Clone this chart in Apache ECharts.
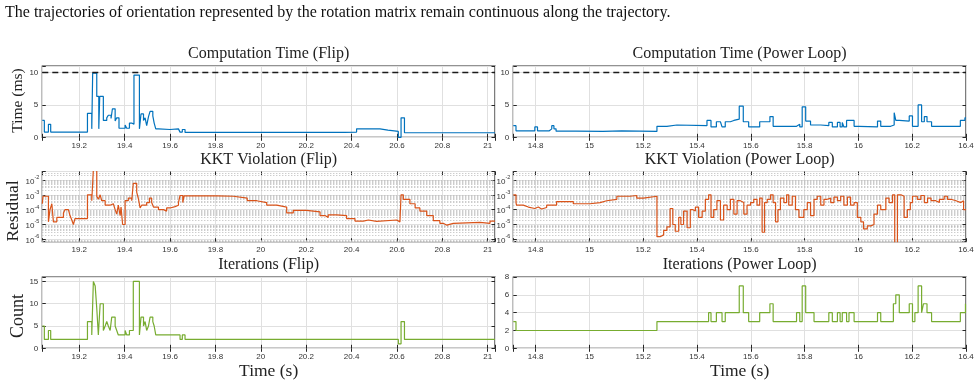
<!DOCTYPE html>
<html>
<head>
<meta charset="utf-8">
<script src="https://cdn.jsdelivr.net/npm/echarts@6/dist/echarts.min.js"></script>
<style>
  html, body { margin: 0; padding: 0; background: #fff; }
  #chart { width: 979px; height: 386px; }
</style>
</head>
<body>
<div id="chart"></div>
<script>
// ---- data (step change points: time in s, value held until next point) ----
const flipTimeT = [19.037, 19.046, 19.064, 19.074, 19.236, 19.255, 19.259, 19.277, 19.286, 19.290, 19.306, 19.321, 19.328, 19.340, 19.346, 19.358, 19.365, 19.375, 19.402, 19.409, 19.421, 19.431, 19.441, 19.465, 19.472, 19.483, 19.490, 19.497, 19.505, 19.512, 19.524, 19.530, 19.537, 19.549, 19.600, 19.637, 19.644, 19.654, 19.666, 19.923, 19.930, 20.077, 20.084, 20.349, 20.356, 20.370, 20.378, 20.422, 20.525, 20.560, 20.606, 20.618, 20.633, 20.819, 20.826, 21.032];
const flipTimeV = [2.6, 0.8, 2.0, 0.8, 3.7, 1.3, 9.9, 6.3, 1.3, 6.3, 2.6, 3.0, 3.4, 2.9, 4.4, 2.5, 3.0, 1.4, 1.9, 1.4, 2.2, 2.0, 9.6, 1.3, 3.6, 2.6, 3.0, 1.8, 3.2, 4.0, 3.3, 2.2, 1.3, 1.2, 1.3, 1.2, 0.8, 1.2, 0.75, 0.95, 0.75, 0.95, 0.75, 0.95, 0.75, 0.9, 0.8, 1.3, 1.1, 0.9, 0, 3.0, 0.7, 0.9, 0.7, 0.7];

const loopTimeT = [14.717, 14.727, 14.797, 14.807, 14.851, 14.860, 14.868, 14.876, 14.950, 15.050, 15.120, 15.251, 15.288, 15.325, 15.437, 15.452, 15.472, 15.487, 15.493, 15.505, 15.524, 15.537, 15.557, 15.572, 15.592, 15.633, 15.671, 15.683, 15.770, 15.782, 15.791, 15.804, 15.822, 15.860, 15.890, 15.903, 15.922, 15.932, 15.940, 15.946, 15.956, 15.965, 15.984, 16.002, 16.071, 16.083, 16.120, 16.133, 16.139, 16.152, 16.189, 16.201, 16.222, 16.235, 16.245, 16.255, 16.272, 16.379, 16.396, 16.4];
const loopTimeV = [1.8, 1.0, 1.6, 1.0, 1.3, 1.8, 1.3, 0.95, 0.9, 1.0, 0.9, 1.7, 1.9, 1.8, 2.6, 1.6, 2.4, 2.2, 1.6, 2.4, 2.6, 2.8, 4.8, 2.4, 1.6, 2.4, 3.2, 1.7, 2.0, 1.6, 4.7, 2.5, 1.9, 1.8, 2.3, 1.6, 2.3, 1.6, 2.3, 1.6, 2.6, 2.6, 1.7, 1.6, 2.5, 1.7, 1.9, 3.8, 2.6, 2.5, 3.3, 1.7, 5.0, 2.4, 3.2, 2.4, 1.7, 2.6, 3.0, 3.0];

const flipKktT = [19.037, 19.040, 19.064, 19.071, 19.079, 19.086, 19.101, 19.130, 19.137, 19.152, 19.159, 19.167, 19.174, 19.181, 19.236, 19.255, 19.262, 19.277, 19.284, 19.292, 19.299, 19.314, 19.336, 19.350, 19.358, 19.365, 19.372, 19.380, 19.384, 19.391, 19.402, 19.416, 19.431, 19.438, 19.453, 19.461, 19.468, 19.475, 19.497, 19.509, 19.519, 19.527, 19.549, 19.571, 19.585, 19.600, 19.622, 19.637, 19.644, 19.656, 19.662, 19.806, 19.879, 19.940, 19.982, 20.026, 20.070, 20.114, 20.143, 20.202, 20.261, 20.283, 20.297, 20.334, 20.378, 20.415, 20.452, 20.474, 20.481, 20.510, 20.599, 20.613, 20.618, 20.628, 20.657, 20.680, 20.701, 20.731, 20.760, 20.789, 20.804, 20.820, 20.848, 20.907, 20.966, 21.010, 21.032];
const flipKktV = [2.5e-4, 8e-4, 1.5e-5, 1e-4, 2.5e-4, 1.5e-5, 3e-5, 6e-5, 1e-4, 8e-5, 4e-5, 2e-5, 1e-5, 2.5e-5, 1e-3, 4e-4, 0.05, 8e-4, 5e-4, 1e-3, 4e-4, 2e-4, 2.5e-4, 3e-4, 1e-4, 5e-5, 2e-4, 4e-5, 1.5e-4, 1e-5, 4e-4, 6e-4, 4e-4, 6e-3, 1.5e-3, 5e-4, 1.3e-4, 2e-4, 3e-4, 6e-4, 3e-4, 1.5e-4, 1e-4, 8e-5, 1.3e-4, 1.6e-4, 2e-4, 3e-4, 9e-4, 3e-4, 8.5e-4, 8e-4, 6e-4, 4e-4, 3e-4, 2e-4, 1.5e-4, 6e-5, 9e-5, 7e-5, 4e-5, 3e-5, 4.5e-5, 4e-5, 2.5e-5, 1.7e-5, 2e-5, 2.5e-5, 1.6e-5, 2e-5, 1.5e-5, 1.2e-5, 1e-3, 5e-4, 2.5e-4, 1.3e-4, 8e-5, 4e-5, 1.8e-5, 1.2e-5, 9e-6, 1.2e-5, 1.3e-5, 1.4e-5, 1.2e-5, 1.7e-5, 1.8e-5];

const loopKktT = [14.717, 14.727, 14.729, 14.754, 14.773, 14.779, 14.797, 14.810, 14.822, 14.841, 14.878, 14.940, 15.002, 15.040, 15.064, 15.102, 15.151, 15.176, 15.201, 15.251, 15.263, 15.276, 15.288, 15.300, 15.310, 15.319, 15.332, 15.340, 15.350, 15.363, 15.375, 15.385, 15.394, 15.406, 15.419, 15.431, 15.443, 15.452, 15.462, 15.474, 15.487, 15.499, 15.512, 15.524, 15.537, 15.549, 15.561, 15.574, 15.586, 15.599, 15.611, 15.623, 15.633, 15.642, 15.651, 15.661, 15.673, 15.683, 15.692, 15.701, 15.710, 15.723, 15.733, 15.741, 15.754, 15.766, 15.779, 15.797, 15.810, 15.822, 15.835, 15.847, 15.860, 15.872, 15.884, 15.897, 15.909, 15.922, 15.934, 15.946, 15.959, 15.971, 15.984, 15.996, 16.009, 16.019, 16.033, 16.046, 16.058, 16.071, 16.083, 16.102, 16.114, 16.127, 16.135, 16.145, 16.158, 16.170, 16.182, 16.193, 16.201, 16.219, 16.232, 16.245, 16.257, 16.270, 16.288, 16.301, 16.319, 16.331, 16.344, 16.363, 16.381, 16.391, 16.4];
const loopKktV = [1e-3, 3e-4, 2e-4, 1.5e-4, 2e-4, 1.2e-4, 1.5e-4, 1.1e-4, 1.4e-4, 2e-4, 3.5e-4, 2.5e-4, 3e-4, 4e-4, 5e-4, 8e-4, 9e-4, 6e-4, 8e-4, 1.5e-6, 2e-6, 4e-6, 7e-6, 1.2e-4, 1e-5, 3.5e-6, 3e-5, 1e-5, 8e-5, 6e-6, 1e-4, 8e-5, 1.5e-4, 3e-5, 8e-5, 5e-4, 1e-3, 3e-5, 1e-4, 4e-4, 2e-5, 2e-4, 1e-4, 5e-4, 5e-5, 4e-4, 3e-4, 5e-5, 2e-4, 3e-4, 5e-4, 2e-4, 6e-4, 3e-6, 3e-4, 5e-4, 1e-3, 3e-4, 1.5e-5, 1e-4, 6e-4, 3e-4, 1e-3, 2e-4, 8e-4, 1e-4, 3e-5, 1e-4, 3e-4, 4e-5, 5e-4, 8e-4, 2e-4, 5e-4, 6e-4, 3e-4, 7e-4, 4e-4, 8e-4, 2e-4, 7e-4, 2e-4, 3e-4, 3e-5, 1.5e-5, 5e-6, 8e-6, 1e-5, 5e-5, 2e-4, 1e-4, 6e-4, 3e-4, 1e-3, 5e-7, 1e-3, 8e-4, 3e-5, 1e-4, 3e-4, 8e-4, 5e-4, 9e-4, 3e-4, 6e-4, 4e-4, 3e-4, 5e-4, 8e-4, 5e-4, 4e-4, 3e-4, 4e-4, 1e-4, 1e-4];

const flipIterT = [19.037, 19.046, 19.064, 19.074, 19.236, 19.255, 19.262, 19.270, 19.277, 19.284, 19.292, 19.306, 19.314, 19.321, 19.328, 19.336, 19.343, 19.358, 19.365, 19.372, 19.402, 19.409, 19.421, 19.438, 19.465, 19.472, 19.483, 19.490, 19.497, 19.505, 19.512, 19.524, 19.530, 19.537, 19.644, 19.654, 19.666, 20.606, 20.618, 20.633, 21.032];
const flipIterV = [5, 2, 4, 2, 6, 3, 15, 14, 9, 3, 10, 4, 5, 6, 5, 4, 7, 5, 4, 3, 4, 3, 4, 15, 3, 7, 5, 6, 4, 5, 7, 6, 5, 3, 2, 3, 2, 1, 6, 2, 2];

const loopIterT = [14.717, 14.727, 15.251, 15.443, 15.452, 15.472, 15.493, 15.505, 15.557, 15.572, 15.592, 15.633, 15.671, 15.683, 15.770, 15.782, 15.791, 15.804, 15.835, 15.890, 15.903, 15.922, 15.932, 15.940, 15.956, 15.965, 15.984, 16.071, 16.083, 16.130, 16.139, 16.152, 16.189, 16.201, 16.210, 16.222, 16.235, 16.242, 16.255, 16.272, 16.379, 16.398, 16.4];
const loopIterV = [3, 2, 3, 4, 3, 4, 3, 4, 7, 4, 3, 4, 5, 3, 4, 3, 7, 4, 3, 4, 3, 4, 3, 4, 3, 4, 3, 4, 3, 5, 6, 4, 5, 3, 4, 7, 4, 5, 4, 3, 4, 5, 5];

const panelTitles = ['Computation Time (Flip)', 'Computation Time (Power Loop)', 'KKT Violation (Flip)', 'KKT Violation (Power Loop)', 'Iterations (Flip)', 'Iterations (Power Loop)'];
const timeLimit = 10;

// ---- layout ----
const COLS = [{ left: 42.3, width: 452.7 }, { left: 513.3, width: 452.7 }];
const ROWS = [{ top: 66, height: 71.3 }, { top: 171.5, height: 70.2 }, { top: 277, height: 71.3 }];
const XRANGE = [[19.037, 21.032, 10], [14.717, 16.4, 8]];
const COLORS = ['#0072BD', '#D95319', '#77AC30'];

const AX = '#262626';
const GRID_C = '#e0e0e0';
const SANS = 'Liberation Sans, Arial, sans-serif';
const SERIF = '"Liberation Serif", "Times New Roman", serif';

const KKT_MIN = 6.9e-7;
const KKT_MAX = 0.0374;

function pairs(t, v) {
  return t.map((x, i) => [x, v[i]]);
}

function fmtX(v) {
  if (Math.abs(v * 5 - Math.round(v * 5)) > 1e-6) return '';
  return String(+v.toFixed(1));
}

function fmtLog(v) {
  const e = Math.log10(v);
  if (Math.abs(e - Math.round(e)) > 1e-6) return '';
  return '{b|10}{s|' + Math.round(e) + '}';
}

function xAxesFor(gi, col) {
  const [min, max, splitNumber] = XRANGE[col];
  const base = {
    type: 'value', gridIndex: gi, min, max, splitNumber,
    axisLine: { show: false },
    axisTick: { inside: true, length: 3.5, lineStyle: { color: AX, width: 1 } },
  };
  return [
    Object.assign({}, base, {
      position: 'bottom',
      axisLabel: { margin: 4, fontSize: 8, color: '#333', fontFamily: SANS, formatter: fmtX },
      splitLine: { show: true, lineStyle: { color: GRID_C, width: 1 } },
    }),
    Object.assign({}, base, {
      position: 'top',
      axisLabel: { show: false },
      splitLine: { show: false },
    }),
  ];
}

function yAxesFor(gi, row, col) {
  let base;
  let label;
  if (row === 1) {
    base = { type: 'log', logBase: 10, min: KKT_MIN, max: KKT_MAX, splitNumber: 5 };
    label = {
      margin: 3, color: '#333', fontFamily: SANS, formatter: fmtLog,
      rich: {
        b: { fontSize: 8, fontFamily: SANS, color: '#333', verticalAlign: 'bottom' },
        s: { fontSize: 5.5, fontFamily: SANS, color: '#333', verticalAlign: 'bottom', padding: [0, 0, 5, 0] },
      },
    };
  } else {
    let max, interval;
    if (row === 0) { max = 11; interval = 5; }
    else if (col === 0) { max = 16; interval = 5; }
    else { max = 8; interval = 2; }
    base = { type: 'value', min: 0, max, interval };
    label = {
      margin: 4, fontSize: 8, color: '#333', fontFamily: SANS,
      formatter: (v) => (v % interval === 0 ? String(v) : ''),
    };
  }
  const common = Object.assign({ gridIndex: gi, axisLine: { show: false },
    axisTick: { inside: true, length: 3.5, lineStyle: { color: AX, width: 1 } } }, base);
  return [
    Object.assign({}, common, {
      position: 'left', axisLabel: label,
      splitLine: { show: true, lineStyle: { color: GRID_C, width: 1 } },
    }),
    Object.assign({}, common, {
      position: 'right', axisLabel: { show: false }, splitLine: { show: false },
    }),
  ];
}

// hidden linear axis in decades, only used to place the dotted minor grid (2..9 x 10^n)
function minorAxisFor(gi) {
  return {
    type: 'value', gridIndex: gi, show: false,
    min: Math.log10(KKT_MIN), max: Math.log10(KKT_MAX),
    splitLine: { show: false },
  };
}

function minorLogLines() {
  const out = [];
  for (let e = -7; e <= -1; e++) {
    for (let k = 2; k <= 9; k++) {
      const v = Math.log10(k) + e;
      if (v > Math.log10(KKT_MIN) && v < Math.log10(KKT_MAX)) out.push({ yAxis: v });
    }
  }
  return out;
}

const seriesData = [
  pairs(flipTimeT, flipTimeV), pairs(loopTimeT, loopTimeV),
  pairs(flipKktT, flipKktV), pairs(loopKktT, loopKktV),
  pairs(flipIterT, flipIterV), pairs(loopIterT, loopIterV),
];

const grids = [];
const xAxis = [];
const yAxis = [];
const series = [];
const graphic = [];

for (let row = 0; row < 3; row++) {
  for (let col = 0; col < 2; col++) {
    const gi = row * 2 + col;
    grids.push({
      left: COLS[col].left, top: ROWS[row].top,
      width: COLS[col].width, height: ROWS[row].height,
      show: true, borderColor: AX, borderWidth: 1.2, backgroundColor: '#fff',
      outerBoundsMode: 'none',
    });
    const xi = xAxis.length;
    xAxis.push(...xAxesFor(gi, col));
    const yi = yAxis.length;
    yAxis.push(...yAxesFor(gi, row, col));

    const s = {
      type: 'line', step: 'end', data: seriesData[gi],
      xAxisIndex: xi, yAxisIndex: yi,
      showSymbol: false, symbol: 'none', clip: true,
      lineStyle: { color: COLORS[row], width: 1.2 },
      silent: true, z: 4,
    };
    if (row === 0) {
      s.markLine = {
        silent: true, symbol: ['none', 'none'], label: { show: false },
        lineStyle: { color: '#1a1a1a', width: 1.3, type: [6, 4] },
        data: [{ yAxis: timeLimit }],
      };
    }
    series.push(s);

    if (row === 1) {
      const mi = yAxis.length;
      yAxis.push(minorAxisFor(gi));
      series.push({
        type: 'line', data: [], xAxisIndex: xi, yAxisIndex: mi, z: 1, silent: true,
        markLine: {
          silent: true, symbol: ['none', 'none'], label: { show: false }, z: 1,
          lineStyle: { color: '#b8b8b8', width: 1, type: [1, 2] },
          data: minorLogLines(),
        },
      });
    }

    graphic.push({
      type: 'text',
      x: COLS[col].left + COLS[col].width / 2,
      y: ROWS[row].top - 12,
      style: { text: panelTitles[gi], font: '16px ' + SERIF, fill: '#222', align: 'center', verticalAlign: 'middle' },
    });
  }
}

// axis names and caption
const yNames = [['Time (ms)', 18, 100.5, 15.5], ['Residual', 13.5, 211, 17.5], ['Count', 18.5, 316, 18]];
yNames.forEach(([text, x, y, size]) => {
  graphic.push({
    type: 'text', x, y, rotation: Math.PI / 2,
    style: { text, font: size + 'px ' + SERIF, fill: '#222', align: 'center', verticalAlign: 'middle' },
  });
});
COLS.forEach((c) => {
  graphic.push({
    type: 'text', x: c.left + c.width / 2, y: 371,
    style: { text: 'Time (s)', font: '17.5px ' + SERIF, fill: '#222', align: 'center', verticalAlign: 'middle' },
  });
});
graphic.push({
  type: 'text', x: 5, y: 13,
  style: {
    text: 'The trajectories of orientation represented by the rotation matrix remain continuous along the trajectory.',
    font: '16px ' + SERIF, fill: '#111', align: 'left', verticalAlign: 'middle',
  },
});

const chart = echarts.init(document.getElementById('chart'));
chart.setOption({
  animation: false,
  backgroundColor: '#fff',
  grid: grids,
  xAxis,
  yAxis,
  series,
  graphic,
});
</script>
</body>
</html>
